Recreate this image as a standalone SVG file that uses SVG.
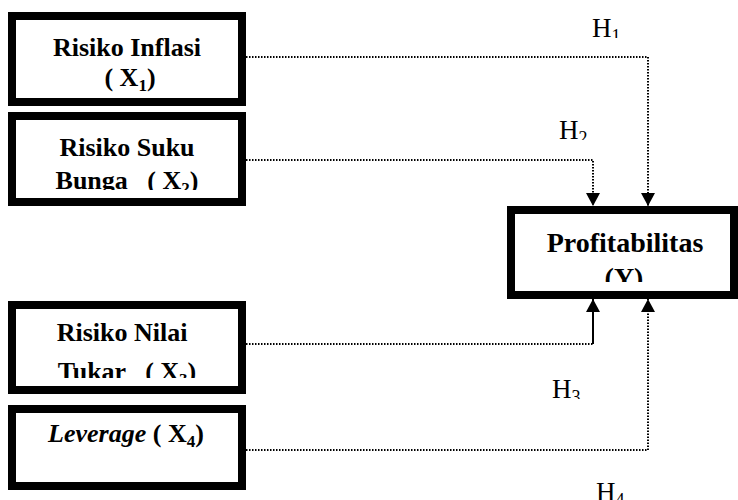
<svg xmlns="http://www.w3.org/2000/svg" width="738" height="500" viewBox="0 0 738 500">
<style>
.box{fill:#fff;stroke:#000;stroke-width:8}
.t{font-family:"Liberation Serif","Times New Roman",serif;font-weight:bold;font-size:26px;text-anchor:middle;fill:#000}
.ty{font-size:28px}
.h{font-family:"Liberation Serif","Times New Roman",serif;font-size:27px;fill:#000}
.dot{fill:none;stroke:#000;stroke-width:2;stroke-dasharray:1.5 1.5}
.sol{fill:none;stroke:#000;stroke-width:2}
</style>
<defs>
<marker id="ah" viewBox="0 0 13 14" refX="13" refY="7" markerWidth="13" markerHeight="14" orient="auto" markerUnits="userSpaceOnUse">
<path d="M0,0 L13,7 L0,14 Z" fill="#000"/>
</marker>
<clipPath id="c1"><rect x="16" y="20" width="222" height="72"/></clipPath>
<clipPath id="c2"><rect x="16" y="120" width="222" height="70"/></clipPath>
<clipPath id="c3"><rect x="16" y="309" width="222" height="69"/></clipPath>
<clipPath id="c4"><rect x="16" y="413" width="222" height="69"/></clipPath>
<clipPath id="cy"><rect x="515" y="214" width="214" height="68"/></clipPath>
<clipPath id="ch1"><rect x="560" y="0" width="80" height="38"/></clipPath>
<clipPath id="ch2"><rect x="530" y="100" width="80" height="40"/></clipPath>
<clipPath id="ch3"><rect x="530" y="360" width="80" height="39"/></clipPath>
</defs>
<g id="connectors">
<path class="dot" d="M246,57 H648 V206" marker-end="url(#ah)"/>
<path class="dot" d="M246,160 H593 V206" marker-end="url(#ah)"/>
<path class="dot" d="M246,344 H593"/>
<path class="sol" d="M593,344 V299" marker-end="url(#ah)"/>
<path class="dot" d="M246,450 H648 V299" marker-end="url(#ah)"/>
</g>
<g id="labels">
<g clip-path="url(#ch1)"><text class="h" x="592" y="37">H<tspan font-size="18" dy="5">1</tspan></text></g>
<g clip-path="url(#ch2)"><text class="h" x="559" y="139">H<tspan font-size="18" dy="5">2</tspan></text></g>
<g clip-path="url(#ch3)"><text class="h" x="552" y="398">H<tspan font-size="18" dy="5">3</tspan></text></g>
<text class="h" x="596" y="501">H<tspan font-size="18" dy="5">4</tspan></text>
</g>
<g id="x1">
<rect class="box" x="12" y="16" width="230" height="86"/>
<g clip-path="url(#c1)"><text class="t" x="127" y="56">Risiko Inflasi</text>
<text class="t" x="130" y="86">( X<tspan font-size="17" dy="5">1</tspan><tspan dy="-5">)</tspan></text></g>
</g>
<g id="x2">
<rect class="box" x="12" y="116" width="230" height="86"/>
<g clip-path="url(#c2)"><text class="t" x="127" y="156">Risiko Suku</text>
<text class="t" x="127" y="189" xml:space="preserve">Bunga   ( X<tspan font-size="17" dy="5">2</tspan><tspan dy="-5">)</tspan></text></g>
</g>
<g id="x3">
<rect class="box" x="12" y="305" width="230" height="85"/>
<g clip-path="url(#c3)"><text class="t" x="122" y="341">Risiko Nilai</text>
<text class="t" x="127" y="380" xml:space="preserve">Tukar   ( X<tspan font-size="17" dy="5">3</tspan><tspan dy="-5">)</tspan></text></g>
</g>
<g id="x4">
<rect class="box" x="12" y="409" width="230" height="77"/>
<g clip-path="url(#c4)"><text class="t" x="126" y="442"><tspan font-style="italic">Leverage</tspan> ( X<tspan font-size="17" dy="5">4</tspan><tspan dy="-5">)</tspan></text></g>
</g>
<g id="y">
<rect class="box" x="511" y="210" width="223" height="85"/>
<g clip-path="url(#cy)"><text class="t ty" x="625" y="252">Profitabilitas</text>
<text class="t ty" x="624" y="287">(Y)</text></g>
</g>
</svg>
